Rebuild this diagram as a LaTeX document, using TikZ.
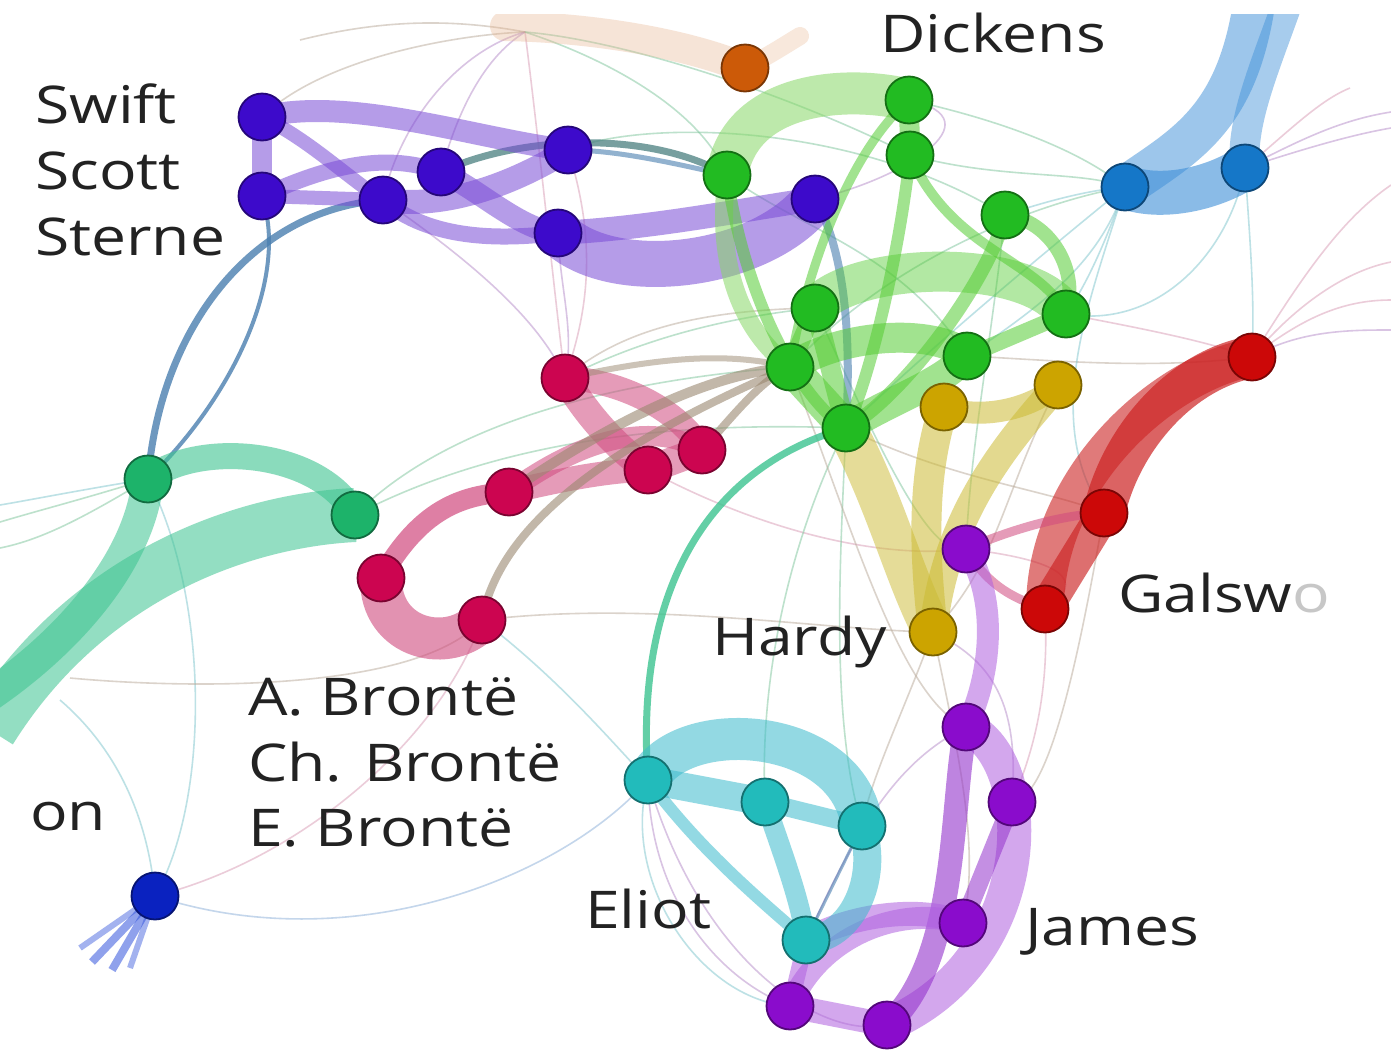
\documentclass[tikz,border=0pt]{standalone}
\usepackage{fontspec}
\setmainfont{Open Sans}
\definecolor{purN}{HTML}{3D0ACB}
\definecolor{purB}{HTML}{7A4BD6}
\definecolor{orgN}{HTML}{CC5A08}
\definecolor{orgB}{HTML}{E8B48E}
\definecolor{grnN}{HTML}{22BB22}
\definecolor{grnB}{HTML}{55CC33}
\definecolor{grnL}{HTML}{88D866}
\definecolor{bluN}{HTML}{1577C8}
\definecolor{bluB}{HTML}{3D8FD8}
\definecolor{yelN}{HTML}{CCA400}
\definecolor{yelB}{HTML}{CCBB33}
\definecolor{redN}{HTML}{CC0808}
\definecolor{redB}{HTML}{CC2222}
\definecolor{vioN}{HTML}{8A0CCC}
\definecolor{vioB}{HTML}{B060E0}
\definecolor{vioD}{HTML}{9433CC}
\definecolor{teaN}{HTML}{22BBBB}
\definecolor{teaB}{HTML}{3CBBCC}
\definecolor{tgnN}{HTML}{1DB36A}
\definecolor{tgnB}{HTML}{3CC490}
\definecolor{crmN}{HTML}{CC0550}
\definecolor{crmB}{HTML}{D04A7E}
\definecolor{dbuN}{HTML}{0A22C0}
\definecolor{dbuB}{HTML}{3355DD}
\definecolor{stlB}{HTML}{4A7FB0}
\definecolor{stlG}{HTML}{4A8080}
\definecolor{brnB}{HTML}{9A8870}
\definecolor{labc}{HTML}{222222}
\definecolor{thP}{HTML}{B48AC8}
\definecolor{thG}{HTML}{7CC49A}
\definecolor{thT}{HTML}{7CC4CC}
\definecolor{thK}{HTML}{D89AB4}
\definecolor{thN}{HTML}{B8A898}
\definecolor{thB}{HTML}{8AAED8}
\newcommand{\wtxt}[1]{\scalebox{1.2}[1]{#1}}
\begin{document}
\begin{tikzpicture}[x=1pt,y=-1pt,
  nd/.style={circle,minimum size=47pt,inner sep=0pt,line width=1.8pt,draw=#1!60!black,fill=#1},
  bd/.style={draw=#1,line cap=round,opacity=0.55},
  tl/.style={draw=#1,line width=1.6pt,opacity=0.5},
  lab/.style={font=\fontsize{52}{60}\selectfont,text=labc,anchor=base west,inner sep=0pt}]
\fill[white] (0,0) rectangle (1391,1058);
\useasboundingbox (0,0) rectangle (1391,1058);
\begin{scope}
\clip (0,14) rectangle (1391,1058);

% ---------- node positions
\path
 (262,117) coordinate (P1) (262,196) coordinate (P2) (383,200) coordinate (P3)
 (441,172) coordinate (P4) (568,150) coordinate (P5) (558,233) coordinate (P6)
 (815,199) coordinate (P7) (745,68) coordinate (O1)
 (909,100) coordinate (G1) (910,155) coordinate (G2) (727,175) coordinate (G3)
 (1005,215) coordinate (G4) (815,308) coordinate (G5) (1066,314) coordinate (G6)
 (790,367) coordinate (G7) (967,356) coordinate (G8) (846,428) coordinate (G9)
 (1125,187) coordinate (B1) (1245,168) coordinate (B2)
 (944,407) coordinate (Y1) (1058,385) coordinate (Y2) (933,632) coordinate (Y3)
 (1252,357) coordinate (R1) (1104,513) coordinate (R2) (1045,609) coordinate (R3)
 (966,549) coordinate (V1) (966,727) coordinate (V2) (1012,802) coordinate (V3)
 (963,923) coordinate (V4) (790,1006) coordinate (V5) (887,1025) coordinate (V6)
 (648,780) coordinate (T1) (765,802) coordinate (T2) (862,826) coordinate (T3)
 (806,940) coordinate (T4)
 (148,479) coordinate (Q1) (355,515) coordinate (Q2)
 (565,378) coordinate (C1) (509,492) coordinate (C2) (648,470) coordinate (C3)
 (702,450) coordinate (C4) (381,578) coordinate (C5) (482,620) coordinate (C6)
 (155,896) coordinate (D1);
\path
 (525,32) coordinate (om) (1256,-10) coordinate (bt1) (1292,-10) coordinate (bt2)
 (-10,730) coordinate (lt1) (-10,695) coordinate (lt2)
 (1391,112) coordinate (ra) (1391,128) coordinate (rb) (1391,185) coordinate (rc)
 (1391,262) coordinate (rd) (1391,330) coordinate (re) (1350,88) coordinate (rf)
 (0,522) coordinate (la) (0,548) coordinate (lb) (60,700) coordinate (lc)
 (70,678) coordinate (ld) (92,962) coordinate (df1) (112,970) coordinate (df2)
 (80,948) coordinate (df3) (130,968) coordinate (df4)
 (300,40) coordinate (tp1) (800,36) coordinate (tp2)
 (1391,300) coordinate (rg) (0,505) coordinate (le) (505,26) coordinate (om2);

% ---------- thin connectors
\draw[tl=thN] (P1) .. controls (320,60) and (450,35) .. (om);
\draw[tl=thP] (om) .. controls (480,60) and (455,120) .. (P4);
\draw[tl=thP] (om) .. controls (460,50) and (400,120) .. (P3);
\draw[tl=thK] (om) .. controls (540,150) and (555,300) .. (C1);
\draw[tl=thG] (om) .. controls (610,60) and (700,110) .. (G3);
\draw[tl=thG] (om) .. controls (620,40) and (780,90) .. (G2);
\draw[tl=thN] (tp1) .. controls (380,20) and (450,18) .. (om);
\draw[tl=thK] (P5) .. controls (600,250) and (585,320) .. (C1);
\draw[tl=thP] (P6) .. controls (560,290) and (575,330) .. (C1);
\draw[tl=thP] (P3) .. controls (470,260) and (540,320) .. (C1);
\draw[tl=thG] (P5) .. controls (640,120) and (850,120) .. (G4);
\draw[tl=thG] (G3) .. controls (800,230) and (900,250) .. (G8);
\draw[tl=thG] (G2) .. controls (1000,180) and (1080,170) .. (B1);
\draw[tl=thG] (G1) .. controls (1000,120) and (1080,150) .. (B1);
\draw[tl=thT] (G4) .. controls (1050,200) and (1090,190) .. (B1);
\draw[tl=thT] (G6) .. controls (1090,280) and (1110,230) .. (B1);
\draw[tl=thT] (G9) .. controls (950,330) and (1060,240) .. (B1);
\draw[tl=thT] (G8) .. controls (1050,300) and (1100,260) .. (B1);
\draw[tl=thG] (G7) .. controls (900,250) and (1050,200) .. (B1);
\draw[tl=thT] (B2) .. controls (1230,250) and (1160,330) .. (G6);
\draw[tl=thT] (B2) .. controls (1250,240) and (1255,300) .. (R1);
\draw[tl=thP] (B2) .. controls (1300,140) and (1340,120) .. (ra);
\draw[tl=thP] (B2) .. controls (1300,150) and (1350,135) .. (rb);
\draw[tl=thK] (B2) .. controls (1290,130) and (1320,100) .. (rf);
\draw[tl=thK] (R1) .. controls (1300,280) and (1340,220) .. (rc);
\draw[tl=thK] (R1) .. controls (1300,300) and (1350,270) .. (rd);
\draw[tl=thP] (R1) .. controls (1300,330) and (1350,330) .. (re);
\draw[tl=thK] (R1) .. controls (1300,320) and (1340,300) .. (rg);
\draw[tl=thN] (G8) .. controls (1050,360) and (1150,370) .. (R1);
\draw[tl=thK] (G6) .. controls (1150,330) and (1200,340) .. (R1);
\draw[tl=thN] (G9) .. controls (950,480) and (1050,490) .. (R2);
\draw[tl=thK] (C3) .. controls (760,530) and (880,560) .. (V1);
\draw[tl=thN] (C6) .. controls (650,600) and (820,630) .. (Y3);
\draw[tl=thT] (C6) .. controls (560,680) and (610,740) .. (T1);
\draw[tl=thK] (C6) .. controls (440,740) and (300,860) .. (D1);
\draw[tl=thB] (D1) .. controls (350,960) and (560,880) .. (T1);
\draw[tl=thT] (lc) .. controls (130,760) and (150,840) .. (D1);
\draw[tl=thT] (Q1) .. controls (210,600) and (210,800) .. (D1);
\draw[tl=thN] (ld) .. controls (200,690) and (420,690) .. (C6);
\draw[tl=thG] (Q2) .. controls (450,420) and (620,380) .. (G7);
\draw[tl=thG] (Q2) .. controls (480,450) and (640,420) .. (G9);
\draw[tl=thG] (Q1) .. controls (80,500) and (40,510) .. (la);
\draw[tl=thG] (Q1) .. controls (80,520) and (40,540) .. (lb);
\draw[tl=thT] (Q1) .. controls (80,490) and (30,500) .. (le);
\draw[tl=thG] (G9) .. controls (840,560) and (830,720) .. (T3);
\draw[tl=thG] (G9) .. controls (780,560) and (760,700) .. (T2);
\draw[tl=thN] (G7) .. controls (850,520) and (900,700) .. (V2);
\draw[tl=thP] (T1) .. controls (650,900) and (720,980) .. (V5);
\draw[tl=thP] (T1) .. controls (700,960) and (820,1040) .. (V6);
\draw[tl=thT] (T1) .. controls (620,880) and (700,1000) .. (V5);
\draw[tl=thP] (T4) .. controls (860,820) and (900,760) .. (V2);
\draw[tl=thN] (Y3) .. controls (900,720) and (870,780) .. (T3);
\draw[tl=thN] (Y3) .. controls (960,760) and (980,850) .. (V4);
\draw[tl=thP] (Y3) .. controls (990,660) and (1020,700) .. (V3);
\draw[tl=thK] (R3) .. controls (1050,700) and (1030,760) .. (V3);
\draw[tl=thN] (R2) .. controls (1080,650) and (1050,800) .. (V3);
\draw[tl=thG] (G5) .. controls (880,450) and (930,560) .. (V1);
\draw[tl=thG] (G4) .. controls (990,350) and (970,450) .. (V1);
\draw[tl=thN] (Y2) .. controls (1000,500) and (1000,560) .. (Y3);
\draw[tl=thT] (B1) .. controls (1090,300) and (1040,420) .. (R2);
\draw[tl=thG] (G5) .. controls (700,320) and (620,350) .. (C1);
\draw[tl=thN] (C1) .. controls (620,330) and (700,310) .. (G5);
\draw[tl=thK] (V1) .. controls (1060,560) and (1090,580) .. (R3);
\draw[tl=thP] (P7) .. controls (900,180) and (1000,120) .. (G1);

% ---------- orange haze
\draw[bd=orgB,line width=30pt,opacity=0.35,line cap=round] (om2) .. controls (600,28) and (690,45) .. (O1);
\draw[bd=orgB,line width=18pt,opacity=0.3,line cap=round] (O1) .. controls (770,55) and (785,45) .. (tp2);

% ---------- steel blue / grey long links
\draw[bd=stlB,line width=7pt,opacity=0.8] (Q1) .. controls (160,330) and (250,210) .. (P3);
\draw[bd=stlB,line width=4pt,opacity=0.8] (Q1) .. controls (230,400) and (290,280) .. (P2);
\draw[bd=stlG,line width=7pt,opacity=0.75] (P4) .. controls (520,135) and (650,130) .. (G3);
\draw[bd=stlB,line width=5pt,opacity=0.6] (P5) .. controls (620,150) and (680,165) .. (G3);
\draw[bd=stlB,line width=8pt,opacity=0.6] (P7) .. controls (850,260) and (850,360) .. (G9);
\draw[bd=tgnB,line width=7pt,opacity=0.8] (T1) .. controls (635,600) and (700,470) .. (G9);

% ---------- purple bands
\draw[bd=purB,line width=20pt] (P1) -- (P2);
\draw[bd=purB,line width=22pt] (P1) .. controls (350,95) and (480,140) .. (P5);
\draw[bd=purB,line width=14pt] (P1) .. controls (310,140) and (350,180) .. (P3);
\draw[bd=purB,line width=16pt] (P2) .. controls (320,170) and (380,150) .. (P4);
\draw[bd=purB,line width=14pt] (P2) -- (P3);
\draw[bd=purB,line width=24pt] (P3) .. controls (450,210) and (520,180) .. (P5);
\draw[bd=purB,line width=22pt] (P4) .. controls (480,190) and (520,230) .. (P6);
\draw[bd=purB,line width=16pt] (P3) .. controls (430,240) and (500,240) .. (P6);
\draw[bd=purB,line width=46pt] (P6) .. controls (610,285) and (760,270) .. (P7);
\draw[bd=purB,line width=24pt] (P6) .. controls (650,228) and (730,212) .. (P7);

% ---------- green bands
\draw[bd=grnL,line width=42pt] (G3) .. controls (740,90) and (850,85) .. (G1);
\draw[bd=grnB,line width=20pt] (G1) -- (G2);
\draw[bd=grnL,line width=18pt] (G3) .. controls (715,260) and (740,330) .. (G7);
\draw[bd=grnB,line width=12pt] (G3) .. controls (745,300) and (800,400) .. (G9);
\draw[bd=grnB,line width=12pt] (G2) .. controls (900,250) and (870,380) .. (G9);
\draw[bd=grnB,line width=9pt] (G1) .. controls (840,160) and (800,300) .. (G7);
\draw[bd=grnB,line width=40pt,opacity=0.45] (G5) .. controls (850,262) and (1030,255) .. (G6);
\draw[bd=grnB,line width=14pt] (G4) .. controls (1050,220) and (1080,270) .. (G6);
\draw[bd=grnB,line width=14pt] (G4) .. controls (990,280) and (900,400) .. (G9);
\draw[bd=grnB,line width=30pt] (G7) .. controls (850,330) and (940,330) .. (G8);
\draw[bd=grnB,line width=30pt] (G9) .. controls (890,400) and (940,385) .. (G8);
\draw[bd=grnB,line width=34pt] (G7) -- (G9);
\draw[bd=grnB,line width=20pt] (G5) -- (G9);
\draw[bd=grnB,line width=16pt] (G6) -- (G8);
\draw[bd=grnB,line width=18pt] (G5) -- (G7);
\draw[bd=grnB,line width=10pt] (G2) .. controls (950,250) and (1040,260) .. (G6);

% ---------- blue bands
\draw[bd=bluB,line width=44pt,opacity=0.6] (B1) .. controls (1160,200) and (1210,190) .. (B2);
\draw[bd=bluB,line width=42pt,opacity=0.5,line cap=butt] (B1) .. controls (1185,145) and (1240,120) .. (bt1);
\draw[bd=bluB,line width=30pt,opacity=0.45,line cap=butt] (B2) .. controls (1240,120) and (1268,60) .. (bt2);

% ---------- yellow bands
\draw[bd=yelB,line width=40pt,opacity=0.5] (G9) .. controls (885,500) and (905,580) .. (Y3);
\draw[bd=yelB,line width=30pt] (Y1) .. controls (920,480) and (925,560) .. (Y3);
\draw[bd=yelB,line width=28pt] (Y2) .. controls (1000,450) and (945,520) .. (Y3);
\draw[bd=yelB,line width=22pt] (Y1) .. controls (980,420) and (1030,410) .. (Y2);

% ---------- red bands
\draw[bd=redB,line width=42pt,opacity=0.7] (R1) .. controls (1180,370) and (1120,440) .. (R2);
\draw[bd=redB,line width=38pt,opacity=0.6] (R1) .. controls (1160,375) and (1045,480) .. (R3);
\draw[bd=redB,line width=34pt,opacity=0.65] (R2) -- (R3);
\draw[bd=crmB,line width=9pt] (V1) .. controls (1010,530) and (1060,515) .. (R2);
\draw[bd=crmB,line width=9pt] (V1) .. controls (990,590) and (1020,600) .. (R3);

% ---------- violet bands
\draw[bd=vioB,line width=22pt] (V1) .. controls (1000,600) and (990,680) .. (V2);
\draw[bd=vioB,line width=34pt] (V2) .. controls (1040,760) and (1040,960) .. (V6);
\draw[bd=vioD,line width=24pt,opacity=0.6] (V2) .. controls (950,800) and (960,960) .. (V6);
\draw[bd=vioD,line width=18pt] (V3) -- (V4);
\draw[bd=vioB,line width=22pt] (V4) .. controls (900,905) and (820,935) .. (V5);
\draw[bd=vioB,line width=24pt] (V5) -- (V6);
\draw[bd=vioB,line width=24pt] (T4) .. controls (850,915) and (920,905) .. (V4);
\draw[bd=vioB,line width=16pt] (T4) -- (V5);

% ---------- teal (Eliot) bands
\draw[bd=teaB,line width=42pt] (T1) .. controls (680,715) and (850,725) .. (T3);
\draw[bd=teaB,line width=28pt] (T1) -- (T2);
\draw[bd=teaB,line width=20pt] (T2) .. controls (785,860) and (800,900) .. (T4);
\draw[bd=teaB,line width=28pt] (T3) .. controls (880,880) and (850,940) .. (T4);
\draw[bd=teaB,line width=12pt] (T1) .. controls (700,850) and (760,900) .. (T4);
\draw[bd=teaB,line width=18pt] (T2) -- (T3);
\draw[bd=stlB,line width=3pt,opacity=0.6] (T3) -- (T4);

% ---------- teal-green bands
\draw[bd=tgnB,line width=26pt,opacity=0.6] (Q1) .. controls (200,440) and (320,450) .. (Q2);
\draw[bd=tgnB,line width=54pt,opacity=0.55,line cap=butt] (Q2) .. controls (250,520) and (90,570) .. (lt1);
\draw[bd=tgnB,line width=32pt,opacity=0.55,line cap=butt] (Q1) .. controls (140,560) and (70,640) .. (lt2);

% ---------- crimson bands
\draw[bd=crmB,line width=42pt,opacity=0.6] (C5) .. controls (380,640) and (450,655) .. (C6);
\draw[bd=crmB,line width=20pt,opacity=0.7] (C5) .. controls (420,510) and (460,495) .. (C2);
\draw[bd=crmB,line width=24pt] (C2) .. controls (560,480) and (610,470) .. (C3);
\draw[bd=crmB,line width=24pt] (C1) .. controls (620,380) and (680,410) .. (C4);
\draw[bd=crmB,line width=28pt] (C1) .. controls (590,420) and (620,450) .. (C3);
\draw[bd=crmB,line width=20pt] (C2) .. controls (580,440) and (650,420) .. (C4);
\draw[bd=crmB,line width=28pt] (C3) -- (C4);
\draw[bd=brnB,line width=8pt,opacity=0.6] (C6) .. controls (500,520) and (620,440) .. (G7);
\draw[bd=brnB,line width=10pt,opacity=0.6] (C2) .. controls (600,430) and (700,375) .. (G7);
\draw[bd=brnB,line width=8pt,opacity=0.6] (C4) .. controls (730,420) and (760,380) .. (G7);
\draw[bd=brnB,line width=6pt,opacity=0.5] (C1) .. controls (650,360) and (720,350) .. (G7);

% ---------- dark blue fan
\draw[bd=dbuB,line width=8pt,opacity=0.55,line cap=butt] (D1) -- (df1);
\draw[bd=dbuB,line width=8pt,opacity=0.55,line cap=butt] (D1) -- (df2);
\draw[bd=dbuB,line width=6pt,opacity=0.45,line cap=butt] (D1) -- (df3);
\draw[bd=dbuB,line width=6pt,opacity=0.45,line cap=butt] (D1) -- (df4);
\end{scope}

% ---------- nodes
\node[nd=purN] (p1) at (P1) {};
\node[nd=purN] (p2) at (P2) {};
\node[nd=purN] (p3) at (P3) {};
\node[nd=purN] (p4) at (P4) {};
\node[nd=purN] (p5) at (P5) {};
\node[nd=purN] (p6) at (P6) {};
\node[nd=purN] (p7) at (P7) {};
\node[nd=orgN] (o1) at (O1) {};
\node[nd=grnN] (g1) at (G1) {};
\node[nd=grnN] (g2) at (G2) {};
\node[nd=grnN] (g3) at (G3) {};
\node[nd=grnN] (g4) at (G4) {};
\node[nd=grnN] (g5) at (G5) {};
\node[nd=grnN] (g6) at (G6) {};
\node[nd=grnN] (g7) at (G7) {};
\node[nd=grnN] (g8) at (G8) {};
\node[nd=grnN] (g9) at (G9) {};
\node[nd=bluN] (b1) at (B1) {};
\node[nd=bluN] (b2) at (B2) {};
\node[nd=yelN] (y1) at (Y1) {};
\node[nd=yelN] (y2) at (Y2) {};
\node[nd=yelN] (y3) at (Y3) {};
\node[nd=redN] (r1) at (R1) {};
\node[nd=redN] (r2) at (R2) {};
\node[nd=redN] (r3) at (R3) {};
\node[nd=vioN] (v1) at (V1) {};
\node[nd=vioN] (v2) at (V2) {};
\node[nd=vioN] (v3) at (V3) {};
\node[nd=vioN] (v4) at (V4) {};
\node[nd=vioN] (v5) at (V5) {};
\node[nd=vioN] (v6) at (V6) {};
\node[nd=teaN] (t1) at (T1) {};
\node[nd=teaN] (t2) at (T2) {};
\node[nd=teaN] (t3) at (T3) {};
\node[nd=teaN] (t4) at (T4) {};
\node[nd=tgnN] (q1) at (Q1) {};
\node[nd=tgnN] (q2) at (Q2) {};
\node[nd=crmN] (c1) at (C1) {};
\node[nd=crmN] (c2) at (C2) {};
\node[nd=crmN] (c3) at (C3) {};
\node[nd=crmN] (c4) at (C4) {};
\node[nd=crmN] (c5) at (C5) {};
\node[nd=crmN] (c6) at (C6) {};
\node[nd=dbuN] (d1) at (D1) {};

% ---------- labels
\node[lab] (lsw) at (35,123) {\wtxt{Swift}};
\node[lab] (lsc) at (35,189) {\wtxt{Scott}};
\node[lab] (lst) at (35,255) {\wtxt{Sterne}};
\node[lab] (ldi) at (880,52) {\wtxt{Dickens}};
\node[lab] (lga) at (1118,612) {\wtxt{Galsw\textcolor{black!22}{o}}};
\node[lab] (lha) at (712,655) {\wtxt{Hardy}};
\node[lab] (lab1) at (248,715) {\wtxt{A. Brontë}};
\node[lab] (lab2) at (248,781) {\wtxt{Ch. Brontë}};
\node[lab] (lab3) at (248,846) {\wtxt{E. Brontë}};
\node[lab] (lon) at (30,830) {\wtxt{on}};
\node[lab] (lel) at (585,928) {\wtxt{Eliot}};
\node[lab] (lja) at (1025,945) {\wtxt{James}};
\end{tikzpicture}
\end{document}
